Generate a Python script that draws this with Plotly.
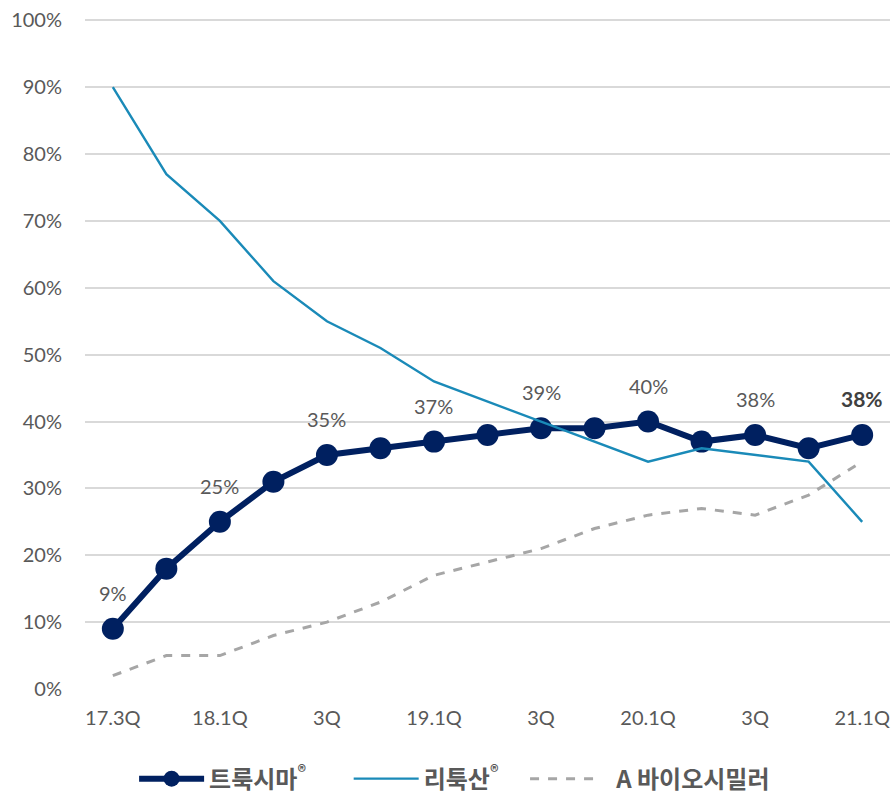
import plotly.graph_objects as go

quarters = ["17.3Q", "17.4Q", "18.1Q", "18.2Q", "18.3Q", "18.4Q", "19.1Q", "19.2Q",
            "19.3Q", "19.4Q", "20.1Q", "20.2Q", "20.3Q", "20.4Q", "21.1Q"]
tick_labels = ["17.3Q", "", "18.1Q", "", "3Q", "", "19.1Q", "", "3Q", "", "20.1Q", "", "3Q", "", "21.1Q"]
truxima = [9, 18, 25, 31, 35, 36, 37, 38, 39, 39, 40, 37, 38, 36, 38]
rituxan = [90, 77, 70, 61, 55, 51, 46, 43, 40, 37, 34, 36, 35, 34, 25]
biosim_a = [2, 5, 5, 8, 10, 13, 17, 19, 21, 24, 26, 27, 26, 29, 34]
label_idx = [0, 2, 4, 6, 8, 10, 12, 14]

x = list(range(len(quarters)))
txt_font = "Lato, 'Noto Sans CJK KR', sans-serif"
sp = "&nbsp;"

fig = go.Figure()
fig.add_trace(go.Scatter(
    x=x, y=truxima, mode="lines+markers", name="<b>트룩시마<sup>®</sup></b>" + sp * 7,
    line=dict(color="#002060", width=6),
    marker=dict(size=22, color="#002060"), cliponaxis=False))
fig.add_trace(go.Scatter(
    x=x, y=rituxan, mode="lines", name="<b>리툭산<sup>®</sup></b>" + sp * 4,
    line=dict(color="#1A8AB8", width=2.4)))
fig.add_trace(go.Scatter(
    x=x, y=biosim_a, mode="lines", name=sp * 3 + "<b>A 바이오시밀러</b>",
    line=dict(color="#A6A6A6", width=3, dash="dash")))

for i in label_idx:
    last = i == label_idx[-1]
    fig.add_annotation(
        x=i, y=truxima[i], text=(f"<b>{truxima[i]}%</b>" if last else f"{truxima[i]}%"),
        showarrow=False, yshift=36,
        font=dict(family=txt_font, size=21 if last else 20,
                  color="#404040" if last else "#595959"))

fig.update_layout(
    width=895, height=794,
    margin=dict(l=85, r=5, t=17, b=105, autoexpand=False),
    plot_bgcolor="white", paper_bgcolor="white",
    font=dict(family=txt_font, color="#595959", size=20),
    showlegend=True,
    legend=dict(orientation="h", x=0.061, xanchor="left", y=-0.134, yanchor="middle",
                font=dict(family="'Noto Sans CJK KR', sans-serif", size=24, color="#595959"),
                itemwidth=65),
    xaxis=dict(range=[-0.52, 14.52], tickmode="array", tickvals=x, ticktext=tick_labels,
               showgrid=False, zeroline=False, showline=False, ticks="",
               ticklabelstandoff=15,
               tickfont=dict(size=20, color="#595959")),
    yaxis=dict(range=[0, 100.5], tickmode="array", tickvals=list(range(0, 101, 10)),
               ticktext=[f"{v}%" for v in range(0, 101, 10)],
               showgrid=True, gridcolor="#D9D9D9", gridwidth=1.5, zeroline=False,
               showline=False, ticks="", ticklabelstandoff=22,
               tickfont=dict(size=20, color="#595959")),
)
fig.write_html("out.html", config={"displayModeBar": False},
               post_script="document.body.style.margin='0';")
